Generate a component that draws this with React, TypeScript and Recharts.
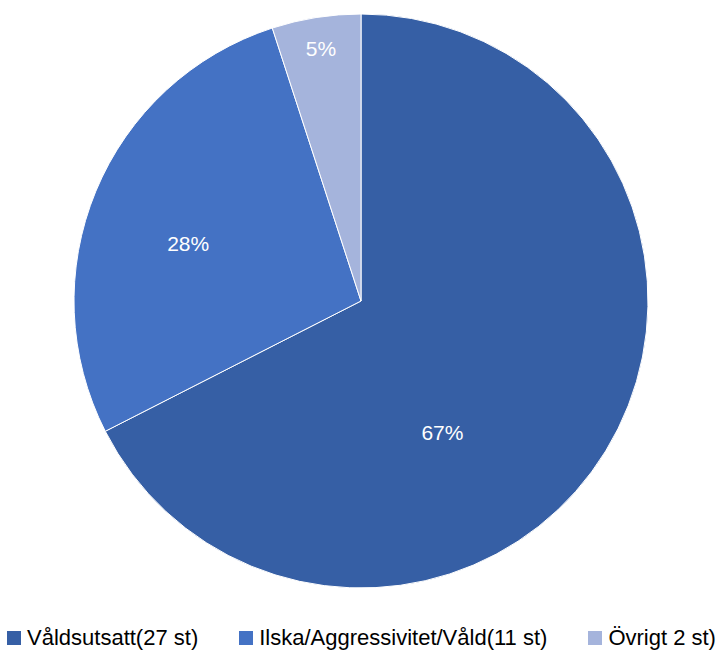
import React from 'react';
import { PieChart, Pie, Cell, Legend } from 'recharts';

const categories = ['Våldsutsatt(27 st)', 'Ilska/Aggressivitet/Våld(11 st)', 'Övrigt 2 st)'];
const counts = [27, 11, 2];
const percentLabels = ['67%', '28%', '5%'];

const COLORS = ['#365FA5', '#4472C4', '#A5B4DC'];
const FONT = '"Liberation Sans", Arial, sans-serif';
const RADIAN = Math.PI / 180;

// Excel "best fit" puts the labels a bit off their mid angles
const LABEL_PLACEMENT: Array<{ angle?: number; ratio: number }> = [
    { angle: -58.3, ratio: 0.54 },
    { angle: 161.5, ratio: 0.635 },
    { ratio: 0.89 },
];

const data = categories.map((name, i) => ({ name, value: counts[i], label: percentLabels[i] }));

const renderLabel = (props: any) => {
    const { cx, cy, midAngle, outerRadius, index } = props;
    const place = LABEL_PLACEMENT[index] || { ratio: 0.6 };
    const angle = place.angle ?? midAngle;
    const r = outerRadius * place.ratio;
    const x = cx + r * Math.cos(-angle * RADIAN);
    const y = cy + r * Math.sin(-angle * RADIAN);
    return (
        <text x={x} y={y} fill="#ffffff" textAnchor="middle" dominantBaseline="central"
            style={{ fontFamily: FONT, fontSize: 21 }}>
            {data[index].label}
        </text>
    );
};

const renderLegend = () => (
    <div style={{ display: 'flex', justifyContent: 'center', gap: 41, fontFamily: FONT, fontSize: 22, color: '#000' }}>
        {data.map((d, i) => (
            <div key={d.name} style={{ display: 'flex', alignItems: 'center' }}>
                <span style={{ width: 14, height: 14, background: COLORS[i], display: 'inline-block', marginRight: 6 }} />
                <span>{d.name}</span>
            </div>
        ))}
    </div>
);

export default function App() {
    return (
        <div style={{ position: 'absolute', left: 0, top: 0, width: 723, height: 651, background: '#fff' }}>
            <PieChart width={723} height={651} margin={{ top: 0, right: 0, left: 0, bottom: 0 }}>
                <Pie
                    data={data}
                    dataKey="value"
                    nameKey="name"
                    cx={361}
                    cy={301}
                    outerRadius={287}
                    startAngle={90}
                    endAngle={-270}
                    stroke="#ffffff"
                    strokeWidth={1}
                    label={renderLabel}
                    labelLine={false}
                    isAnimationActive={false}
                >
                    {data.map((_, i) => (
                        <Cell key={`cell-${i}`} fill={COLORS[i]} />
                    ))}
                </Pie>
                <Legend verticalAlign="bottom" align="center" content={renderLegend}
                    wrapperStyle={{ bottom: 0, left: 0, width: 723 }} />
            </PieChart>
        </div>
    );
}
